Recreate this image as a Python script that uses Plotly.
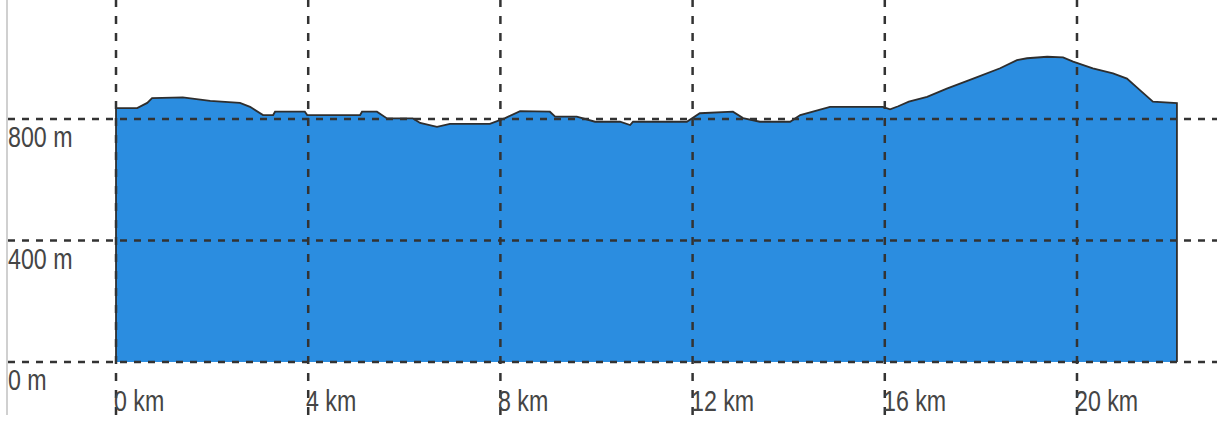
import plotly.graph_objects as go

# Elevation profile
distance_km = [0.00, 0.44, 0.65, 0.75, 1.39, 1.96, 2.58, 2.79, 3.06, 3.27, 3.31, 3.93, 3.98,
               5.08, 5.12, 5.43, 5.64, 6.18, 6.33, 6.68, 6.95, 7.78, 7.89, 8.10, 8.41, 9.03,
               9.14, 9.59, 9.97, 10.49, 10.70, 10.76, 11.88, 12.15, 12.84, 13.05, 13.40, 14.03,
               14.24, 14.65, 14.86, 15.96, 16.11, 16.28, 16.50, 16.88, 17.29, 17.84, 18.40,
               18.75, 18.96, 19.38, 19.71, 19.92, 20.33, 20.75, 21.04, 21.31, 21.58, 22.08]
elevation_m = [836, 836, 853, 869, 871, 860, 853, 840, 813, 813, 824, 824, 813,
               813, 824, 824, 802, 802, 787, 774, 784, 784, 791, 803, 826, 824,
               808, 808, 791, 791, 780, 791, 791, 819, 824, 803, 791, 791,
               813, 830, 840, 840, 832, 842, 857, 873, 900, 933, 967,
               994, 1000, 1005, 1003, 989, 967, 950, 933, 895, 857, 852]

x_ticks = [0, 4, 8, 12, 16, 20]
x_tick_labels = ["0 km", "4 km", "8 km", "12 km", "16 km", "20 km"]
y_ticks = [0, 400, 800]
y_tick_labels = ["0 m", "400 m", "800 m"]

FONT = "Liberation Sans, Arial, sans-serif"
GRID = "#333333"
LABEL = "#454545"

# closed polygon (down to 0 m at both ends)
xs = [distance_km[0]] + distance_km + [distance_km[-1]]
ys = [0] + elevation_m + [0]

fig = go.Figure()
fig.add_trace(go.Scatter(
    x=xs, y=ys, mode="lines", fill="toself",
    fillcolor="#2b8de0",
    line=dict(color="#2e2e2e", width=1.8),
    hoverinfo="skip", showlegend=False,
))

for t in y_ticks:
    fig.add_shape(type="line", xref="paper", x0=0, x1=1, yref="y", y0=t, y1=t,
                  line=dict(color=GRID, width=2.5, dash="7px,7px"), layer="above")
for t in x_ticks:
    fig.add_shape(type="line", yref="paper", y0=0, y1=1, xref="x", x0=t, x1=t,
                  line=dict(color=GRID, width=2.5, dash="8px,9px"), layer="above")

for t, lab in zip(y_ticks, y_tick_labels):
    fig.add_annotation(xref="paper", x=0, xanchor="left", xshift=-2, yref="y", y=t, yshift=-18,
                       text=lab, showarrow=False,
                       font=dict(family=FONT, size=29, color=LABEL))
for t, lab in zip(x_ticks, x_tick_labels):
    fig.add_annotation(xref="x", x=t, xanchor="left", xshift=-4, yref="y", y=0, yshift=-39,
                       text=lab, showarrow=False,
                       font=dict(family=FONT, size=29, color=LABEL))

fig.update_layout(
    width=1217, height=427,
    margin=dict(l=8, r=0, t=0, b=12),
    paper_bgcolor="white", plot_bgcolor="white",
    xaxis=dict(range=[-2.248, 22.914], showgrid=False, zeroline=False,
               showticklabels=False, ticks="", showline=False, fixedrange=True),
    yaxis=dict(range=[-174.5, 1191.8], showgrid=False, zeroline=False,
               showticklabels=False, ticks="", showline=True, linecolor="#d0d0d0",
               linewidth=1.5, mirror=False, fixedrange=True),
)

post = """
document.body.style.margin = '0';
document.querySelectorAll('text.annotation-text').forEach(function (t) {
  t.style.transformBox = 'fill-box';
  t.style.transformOrigin = 'left center';
  t.style.transform = 'scaleX(0.8)';
});
"""

fig.write_html("out.html", post_script=post, config={"displayModeBar": False})
